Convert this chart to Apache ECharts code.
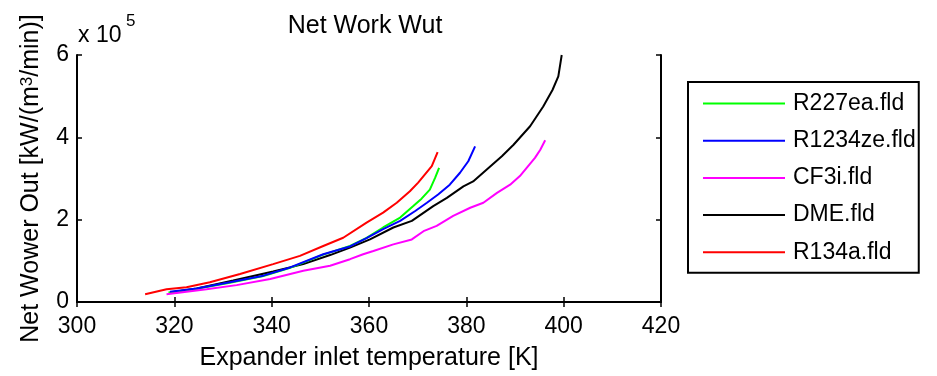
<!DOCTYPE html>
<html>
<head>
<meta charset="utf-8">
<script src="https://cdn.jsdelivr.net/npm/echarts@6/dist/echarts.min.js"></script>
<style>
    html,body{margin:0;padding:0;background:#fff;}
    #chart{width:937px;height:376px;}
</style>
</head>
<body>
<div id="chart"></div>
<script>
// values, net power in kW/(m3/min)
var seriesNames=['R227ea.fld','R1234ze.fld','CF3i.fld','DME.fld','R134a.fld'];
var xTicks=[300,320,340,360,380,400,420];
var yTicks=[0,200000,400000,600000];

var r227eaT=[318.8,324.6,331.4,338.3,343.8,350.6,356.1,359.5,362.9,366.4,369.1,370.8,372.5,373.6,374.4];
var r227eaW=[23000,32000,47000,63000,83000,115000,136000,156000,181000,205000,233000,251000,273000,302000,326000];

var r1234zeT=[319.1,324.6,331.4,338.3,343.8,350.6,356.1,359.5,362.9,366.4,369.5,371.9,374.2,376.6,378.7,380.4,381.8];
var r1234zeW=[25000,33000,48000,64000,84000,116000,135000,155000,177000,197000,221000,241000,261000,285000,314000,342000,378000];

var cf3iT=[318.4,326.6,332.8,339.7,346.5,352.0,356.1,358.8,360.9,365.0,368.8,371.2,373.9,377.3,380.8,383.5,386.3,389.0,391.0,392.4,394.1,395.2,396.2];
var cf3iW=[19000,31000,41000,56000,76000,88000,104000,116000,124000,140000,152000,172000,185000,209000,229000,241000,265000,285000,306000,326000,350000,370000,393000];

var dmeT=[319.5,324.6,332.1,340.3,346.5,352.0,356.1,360.2,365.0,368.8,373.2,376.0,379.4,381.4,384.2,387.3,389.7,393.1,395.8,397.7,398.9,399.6];
var dmeW=[24000,33000,52000,74000,92000,114000,132000,152000,181000,197000,233000,253000,281000,293000,322000,354000,382000,427000,475000,515000,548000,600000];

var r134aT=[314.0,318.4,322.5,327.3,333.5,340.3,345.8,350.6,354.7,359.5,362.9,365.7,368.4,370.1,371.5,372.9,374.1];
var r134aW=[19000,31000,36000,48000,68000,92000,112000,136000,156000,193000,217000,241000,269000,290000,310000,330000,364000];

var colors=['#00ff00','#0000ff','#ff00ff','#000000','#ff0000'];

window.onload=function(){
    var font='"Liberation Sans", Arial, sans-serif';
    var tSets=[r227eaT,r1234zeT,cf3iT,dmeT,r134aT],
        wSets=[r227eaW,r1234zeW,cf3iW,dmeW,r134aW];

    function pairs(t,w){
        var out=[];
        for(var i=0;i<t.length;i++){
            out.push([t[i],w[i]]);
        }
        return out;
    }

    var series=[];
    for(var i=0;i<seriesNames.length;i++){
        series.push({
            name:seriesNames[i],
            type:'line',
            data:pairs(tSets[i],wSets[i]),
            showSymbol:false,
            symbol:'none',
            smooth:false,
            silent:true,
            // DME sits under the other curves where they overlap
            z:seriesNames[i]==='DME.fld' ? 1 : 2,
            lineStyle:{color:colors[i],width:2},
            itemStyle:{color:colors[i]}
        });
    }

    var axisLine={show:true,lineStyle:{color:'#000',width:2}};
    var tick={show:true,inside:true,length:5,lineStyle:{color:'#000',width:1.5}};

    var option={
        animation:false,
        backgroundColor:'#fff',
        title:{
            text:'Net Work Wut',
            left:360,
            top:9,
            textAlign:'center',
            textStyle:{fontFamily:font,fontSize:25,fontWeight:'normal',color:'#000'}
        },
        graphic:[
            {type:'text',style:{x:78,y:36,text:'x 10',font:'23px '+font,fill:'#000',textVerticalAlign:'middle'}},
            {type:'text',style:{x:126,y:21,text:'5',font:'17px '+font,fill:'#000',textVerticalAlign:'middle'}}
        ],
        legend:{
            orient:'vertical',
            left:688,
            top:82,
            data:seriesNames,
            itemWidth:82,
            itemHeight:22,
            itemGap:14.2,
            padding:[10,3,9,15],
            borderColor:'#000',
            borderWidth:2,
            backgroundColor:'#fff',
            selectedMode:false,
            icon:'path://M0,10L82,10L82,12L0,12Z',
            textStyle:{fontFamily:font,fontSize:23,color:'#000',padding:[0,0,0,3]}
        },
        grid:{left:77,right:276,top:55,bottom:73,containLabel:false},
        xAxis:[{
            type:'value',
            min:xTicks[0],
            max:xTicks[xTicks.length-1],
            interval:20,
            position:'bottom',
            name:'Expander inlet temperature [K]',
            nameLocation:'middle',
            nameGap:44,
            nameTextStyle:{fontFamily:font,fontSize:25,color:'#000'},
            axisLine:axisLine,
            axisTick:tick,
            splitLine:{show:false},
            axisLabel:{fontFamily:font,fontSize:23,color:'#000',margin:13}
        },{
            type:'value',
            min:xTicks[0],
            max:xTicks[xTicks.length-1],
            interval:20,
            position:'top',
            axisLine:axisLine,
            axisTick:tick,
            splitLine:{show:false},
            axisLabel:{show:false}
        }],
        yAxis:[{
            type:'value',
            min:yTicks[0],
            max:yTicks[yTicks.length-1],
            interval:200000,
            position:'left',
            name:'Net Wower Out [kW/(m{sup|3}/min)]',
            nameLocation:'middle',
            nameGap:33,
            nameTextStyle:{
                fontFamily:font,fontSize:25,color:'#000',
                rich:{sup:{fontFamily:font,fontSize:17,color:'#000',verticalAlign:'top'}}
            },
            axisLine:axisLine,
            axisTick:tick,
            splitLine:{show:false},
            axisLabel:{
                fontFamily:font,fontSize:23,color:'#000',margin:8,
                formatter:function(v){return String(v/100000);}
            }
        },{
            type:'value',
            min:yTicks[0],
            max:yTicks[yTicks.length-1],
            interval:200000,
            position:'right',
            axisLine:axisLine,
            axisTick:tick,
            splitLine:{show:false},
            axisLabel:{show:false}
        }],
        series:series
    };

    var chart=echarts.init(document.getElementById('chart'),null,{renderer:'canvas'});
    chart.setOption(option);
};
</script>
</body>
</html>
